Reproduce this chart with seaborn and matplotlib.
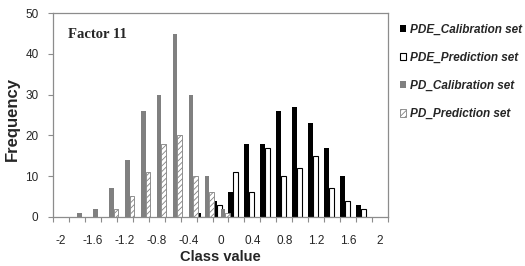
import matplotlib
matplotlib.use("Agg")

import matplotlib.pyplot as plt
import numpy as np
import pandas as pd
import seaborn as sns
from matplotlib.patches import Patch


# PD histogram, bins on the class-value axis
pd_bins = [-1.8, -1.6, -1.4, -1.2, -1.0, -0.8, -0.6, -0.4, -0.2, 0.0]
pd_calibration = [1, 2, 7, 14, 26, 30, 45, 30, 10, 2]
pd_prediction = [0, 0, 2, 5, 11, 18, 20, 10, 6, 1]

# PDE histogram
pde_bins = [-0.3, -0.1, 0.1, 0.3, 0.5, 0.7, 0.9, 1.1, 1.3, 1.5, 1.7]
pde_calibration = [1, 4, 6, 18, 18, 26, 27, 23, 17, 10, 3]
pde_prediction = [0, 3, 11, 6, 17, 10, 12, 15, 7, 4, 2]

x_ticks = [-2, -1.6, -1.2, -0.8, -0.4, 0, 0.4, 0.8, 1.2, 1.6, 2]
x_tick_labels = ["-2", "-1.6", "-1.2", "-0.8", "-0.4", "0", "0.4", "0.8", "1.2", "1.6", "2"]
y_ticks = [0, 10, 20, 30, 40, 50]
legend_labels = ["PDE_Calibration set", "PDE_Prediction set",
                 "PD_Calibration set", "PD_Prediction set"]

BAR = 0.06          # bar width in class-value units
BIN_STEP = 0.2      # spacing of the bins
AXIS_GREY = "#8c8c8c"
GREY = "#808080"

sns.set_style("ticks")
plt.rcParams["font.family"] = ["Liberation Sans", "DejaVu Sans"]
plt.rcParams["hatch.linewidth"] = 0.6

fig = plt.figure(figsize=(5.25, 2.66), dpi=100)
ax = fig.add_axes([0.101, 0.185, 0.638, 0.765])


def _bars(bins, values, slot, **style):
    """한 시리즈를 bin 오른쪽에 slot 순서대로 붙여 그린다."""
    xs = np.asarray(bins) + BAR * (slot + 0.5)
    sns.barplot(x=xs, y=values, native_scale=True, orient="x",
                width=BAR / BIN_STEP, errorbar=None, saturation=1,
                ax=ax, **style)


_bars(pde_bins, pde_calibration, 0, color="black", linewidth=0)
_bars(pde_bins, pde_prediction, 1, color="white", edgecolor="black", linewidth=0.8)
_bars(pd_bins, pd_calibration, 0, color=GREY, linewidth=0)
_bars(pd_bins, pd_prediction, 1, color="white", edgecolor=GREY, linewidth=0.6,
      hatch="//////")

ax.set_xlim(-2.1, 2.1)
ax.set_ylim(0, 50)
ax.set_xticks(x_ticks)
ax.set_xticklabels(x_tick_labels)
ax.set_xticks(np.arange(-2.1, 2.11, 0.2), minor=True)
ax.set_yticks(y_ticks)
ax.tick_params(axis="x", which="major", length=0, pad=13, labelsize=8.5)
ax.tick_params(axis="x", which="minor", length=3.5, width=0.8, color=AXIS_GREY,
               direction="out")
ax.tick_params(axis="y", length=3.5, width=0.8, color=AXIS_GREY, pad=7,
               labelsize=8.5)

for side in ["left", "bottom", "top", "right"]:
    ax.spines[side].set_visible(True)
    ax.spines[side].set_color(AXIS_GREY)
    ax.spines[side].set_linewidth(0.9)

ax.set_xlabel("Class value", fontsize=10.5, fontweight="bold")
ax.xaxis.set_label_coords(0.5, -0.196)
ax.xaxis.label.set_va("center")
ax.set_ylabel("Frequency", fontsize=12, fontweight="bold")
ax.yaxis.set_label_coords(-0.121, 0.482)
ax.yaxis.label.set_va("center")

ax.text(0.045, 0.898, "Factor 11", transform=ax.transAxes, va="center",
        ha="left", fontsize=10.5, fontweight="bold",
        family=["Liberation Serif", "DejaVu Serif"])

handles = [
    Patch(facecolor="black", edgecolor="black", linewidth=0),
    Patch(facecolor="white", edgecolor="black", linewidth=0.8),
    Patch(facecolor=GREY, edgecolor=GREY, linewidth=0),
    Patch(facecolor="white", edgecolor=GREY, linewidth=0.6, hatch="//////"),
]
fig.legend(handles, legend_labels, loc="upper left", bbox_to_anchor=(0.752, 0.93),
           frameon=False, handlelength=0.55, handleheight=0.55,
           handletextpad=0.35, labelspacing=1.38, borderaxespad=0,
           prop={"size": 8.5, "weight": "bold", "style": "italic"})

fig.savefig("out.png", dpi=100)
